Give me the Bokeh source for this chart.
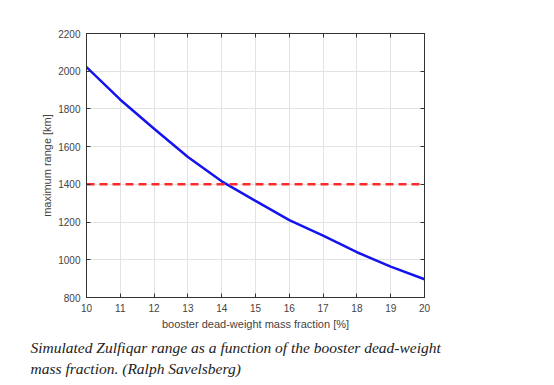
from bokeh.plotting import figure
from bokeh.models import Range1d, FixedTicker, LinearAxis, Title, CustomLabelingPolicy
from bokeh.embed import file_html
from bokeh.resources import INLINE

fraction = [10, 11, 12, 13, 14, 15, 16, 17, 18, 19, 20]
max_range = [2022, 1849, 1695, 1545, 1416, 1312, 1210, 1128, 1040, 964, 897]
limit_x = [10, 20]
limit_y = [1400, 1400]
x_ticks = [10, 11, 12, 13, 14, 15, 16, 17, 18, 19, 20]
y_ticks = [800, 1000, 1200, 1400, 1600, 1800, 2000, 2200]
caption1 = "Simulated Zulfiqar range as a function of the booster dead-weight"
caption2 = "mass fraction. (Ralph Savelsberg)"

W, H = 546, 383
p = figure(width=W, height=H, output_backend="svg", toolbar_location=None,
           x_range=Range1d(10, 20), y_range=Range1d(800, 2200),
           min_border_left=86, min_border_right=122, min_border_top=33, min_border_bottom=86)
p.background_fill_color = "white"
p.border_fill_color = "white"
p.outline_line_color = "#333333"
p.outline_line_width = 1

p.line(fraction, max_range, line_color="#1414f0", line_width=2.5)
p.line(limit_x, limit_y, line_color="#ff2a2a", line_width=2.5, line_dash="8 5")

tick_col = "#333333"
lab_col = "#444444"
for ax in p.xaxis:
    ax.ticker = FixedTicker(ticks=x_ticks)
    ax.axis_label = "booster dead-weight mass fraction [%]"
for ax in p.yaxis:
    ax.ticker = FixedTicker(ticks=y_ticks)
    ax.axis_label = "maximum range [km]"
for ax in p.xaxis + p.yaxis:
    ax.major_tick_in = 4
    ax.major_tick_out = 0
    ax.minor_tick_line_color = None
    ax.axis_line_color = tick_col
    ax.major_tick_line_color = tick_col
    ax.major_label_text_font = "Liberation Sans"
    ax.major_label_text_font_size = "10px"
    ax.major_label_text_color = lab_col
    ax.axis_label_text_font = "Liberation Sans"
    ax.axis_label_text_font_size = "11px"
    ax.axis_label_text_font_style = "normal"
    ax.axis_label_text_color = lab_col
p.xaxis.major_label_standoff = 6
p.xaxis.axis_label_standoff = 3
p.yaxis.major_label_standoff = 6
p.yaxis.axis_label_standoff = 2

hide_code = """
try {
  const arr = Array.from(indices)
  for (const i of arr) { indices.unset(i) }
} catch (e) {}
return indices
"""
top = LinearAxis(ticker=FixedTicker(ticks=x_ticks), major_label_text_font_size="0px",
                 major_label_policy=CustomLabelingPolicy(code=hide_code),
                 major_tick_in=4, major_tick_out=0, minor_tick_line_color=None,
                 axis_line_color=tick_col, major_tick_line_color=tick_col)
right = LinearAxis(ticker=FixedTicker(ticks=y_ticks), major_label_text_font_size="0px",
                   major_label_policy=CustomLabelingPolicy(code=hide_code),
                   major_tick_in=4, major_tick_out=0, minor_tick_line_color=None,
                   axis_line_color=tick_col, major_tick_line_color=tick_col)
p.add_layout(top, "above")
p.add_layout(right, "right")

p.xgrid.ticker = FixedTicker(ticks=x_ticks)
p.ygrid.ticker = FixedTicker(ticks=y_ticks)
p.grid.grid_line_color = "#e3e3e3"
p.grid.grid_line_width = 1

for txt, so in [(caption1, 9), (caption2, -6)]:
    p.add_layout(Title(text=txt, align="left", offset=-56, standoff=so,
                       text_font="Liberation Serif", text_font_style="italic",
                       text_font_size="15.5px", text_color="#222222"), "below")

open("out.html", "w").write(file_html(p, INLINE))
